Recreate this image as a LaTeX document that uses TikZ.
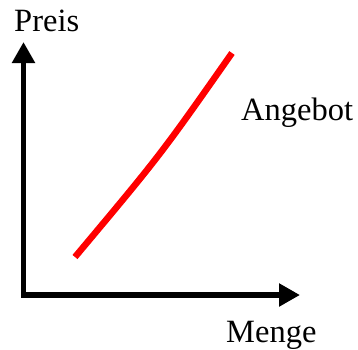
\documentclass[tikz,border=0pt]{standalone}
\usepackage{fontspec}
\setmainfont{Liberation Serif}
\usetikzlibrary{arrows.meta}
\begin{document}
\begin{tikzpicture}[x=1pt,y=-1pt,
  axis/.style={line width=5.5pt, line join=miter,
    {Triangle[length=21pt,width=22pt]}-{Triangle[length=21pt,width=22pt]}},
  supply/.style={line width=6.5pt, red},
  lbl/.style={anchor=base west, inner sep=0pt, font=\fontsize{32.5}{36}\selectfont}]
\useasboundingbox (0,0) rectangle (358,349);
\coordinate (ytip) at (23.5,42);
\coordinate (origin) at (23.5,295);
\coordinate (xtip) at (300,295);
\draw[axis] (ytip) -- (origin) -- (xtip);
\coordinate (s0) at (75,257);
\coordinate (s1) at (232,53);
\draw[supply] (s0) .. controls (160.5,155) .. (s1);
\node[lbl] (preis) at (14,31) {Preis};
\node[lbl] (menge) at (226,342) {Menge};
\node[lbl] (angebot) at (241,120) {Angebot};
\end{tikzpicture}
\end{document}
